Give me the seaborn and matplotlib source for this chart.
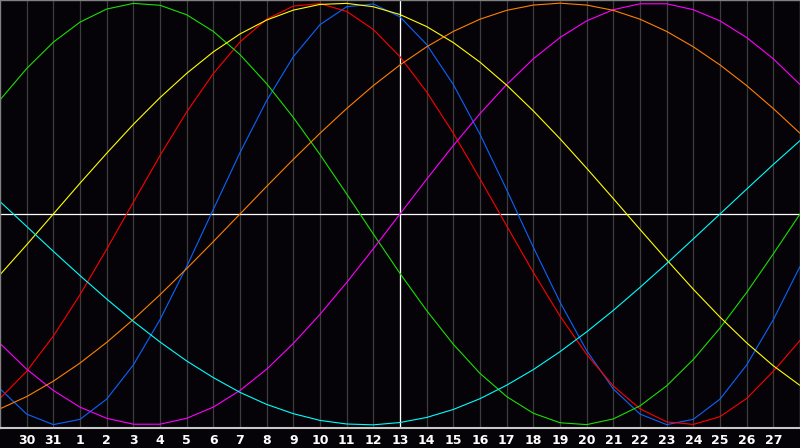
import pandas as pd
import matplotlib
matplotlib.use("Agg")
import matplotlib.pyplot as plt
import seaborn as sns


# day labels under the grid lines (slot 1..29), centre slot 15 = day 13
day_labels = ["30", "31"] + [str(d) for d in range(1, 28)]
slots = list(range(31))

# cycle values per day slot 0..30 (-1..1)
physical = [-0.829, -0.949, -0.999, -0.974, -0.878, -0.716, -0.501, -0.249, 0.022, 0.291,
            0.538, 0.746, 0.898, 0.983, 0.996, 0.935, 0.804, 0.614, 0.378, 0.115,
            -0.158, -0.418, -0.648, -0.830, -0.949, -0.999, -0.974, -0.878, -0.716, -0.501,
            -0.249]
emotional = [-0.875, -0.746, -0.579, -0.383, -0.167, 0.056, 0.277, 0.484, 0.666, 0.816,
             0.924, 0.986, 0.998, 0.961, 0.875, 0.746, 0.579, 0.383, 0.167, -0.056,
             -0.277, -0.484, -0.666, -0.816, -0.924, -0.986, -0.998, -0.961, -0.875, -0.746,
             -0.600]
intellectual = [0.541, 0.690, 0.815, 0.910, 0.972, 0.999, 0.990, 0.945, 0.866, 0.756,
                0.618, 0.458, 0.282, 0.095, -0.095, -0.282, -0.458, -0.618, -0.756, -0.866,
                -0.945, -0.990, -0.999, -0.972, -0.910, -0.815, -0.690, -0.541, -0.372, -0.189,
                0.000]
intuitive = [-0.614, -0.736, -0.837, -0.916, -0.969, -0.997, -0.997, -0.969, -0.916, -0.837,
             -0.736, -0.614, -0.476, -0.325, -0.165, 0.000, 0.165, 0.325, 0.476, 0.614,
             0.736, 0.837, 0.916, 0.969, 0.997, 0.997, 0.969, 0.916, 0.837, 0.736,
             0.614]
aesthetic = [-0.288, -0.146, 0.000, 0.146, 0.288, 0.425, 0.552, 0.667, 0.769, 0.854,
             0.920, 0.967, 0.994, 0.999, 0.983, 0.946, 0.889, 0.813, 0.720, 0.611,
             0.489, 0.357, 0.217, 0.073, -0.073, -0.217, -0.357, -0.489, -0.611, -0.720,
             -0.813]
awareness = [-0.924, -0.866, -0.793, -0.707, -0.609, -0.500, -0.383, -0.259, -0.131, 0.000,
             0.131, 0.259, 0.383, 0.500, 0.609, 0.707, 0.793, 0.866, 0.924, 0.966,
             0.991, 1.000, 0.991, 0.966, 0.924, 0.866, 0.793, 0.707, 0.609, 0.500,
             0.383]
spiritual = [0.059, -0.059, -0.177, -0.292, -0.403, -0.509, -0.607, -0.697, -0.776, -0.846,
             -0.903, -0.947, -0.979, -0.996, -1.000, -0.989, -0.965, -0.927, -0.876, -0.812,
             -0.738, -0.653, -0.559, -0.457, -0.348, -0.235, -0.118, 0.000, 0.118, 0.235,
             0.348]

cycles = {
    "Physical": physical,
    "Emotional": emotional,
    "Intellectual": intellectual,
    "Intuitive": intuitive,
    "Aesthetic": aesthetic,
    "Awareness": awareness,
    "Spiritual": spiritual,
}
colors = {
    "Physical": "#0a64ff",
    "Emotional": "#ff0000",
    "Intellectual": "#18e000",
    "Intuitive": "#ff00ff",
    "Aesthetic": "#ffff00",
    "Awareness": "#ff8000",
    "Spiritual": "#00ffff",
}

rows = []
for name, vals in cycles.items():
    for s, v in zip(slots, vals):
        rows.append({"slot": s, "value": v, "cycle": name})
df = pd.DataFrame(rows)


sns.set_style("dark")
bg = "#050308"
fig = plt.figure(figsize=(8, 4.48), dpi=100, facecolor=bg)
ax = fig.add_axes([0, 20 / 448, 1, 428 / 448])
ax.set_facecolor(bg)

# grid lines per day
for s in range(1, 30):
    ax.axvline(s, color="#3c3c3c", linewidth=0.9, zorder=0)

ax.axhline(0, color="white", linewidth=0.9, zorder=1)
ax.axvline(15, color="white", linewidth=0.9, zorder=1)

sns.lineplot(data=df, x="slot", y="value", hue="cycle", palette=colors,
             linewidth=0.8, legend=False, ax=ax, zorder=2)

ax.set_xlim(0, 30)
ax.set_ylim(-1.015, 1.015)
ax.set_xticks(range(1, 30))
ax.set_xticklabels(day_labels, color="white", fontsize=9, fontweight="bold",
                   family="DejaVu Sans")
ax.set_yticks([])
ax.tick_params(axis="x", length=0, pad=4)
ax.set_xlabel("")
ax.set_ylabel("")
ax.grid(False)

for side in ["left", "top", "right"]:
    ax.spines[side].set_color("#808080")
    ax.spines[side].set_linewidth(1)
    ax.spines[side].set_visible(True)
ax.spines["bottom"].set_color("#c8c8c8")
ax.spines["bottom"].set_linewidth(1.5)
ax.spines["bottom"].set_visible(True)

fig.savefig("out.png", dpi=100, facecolor=bg)
